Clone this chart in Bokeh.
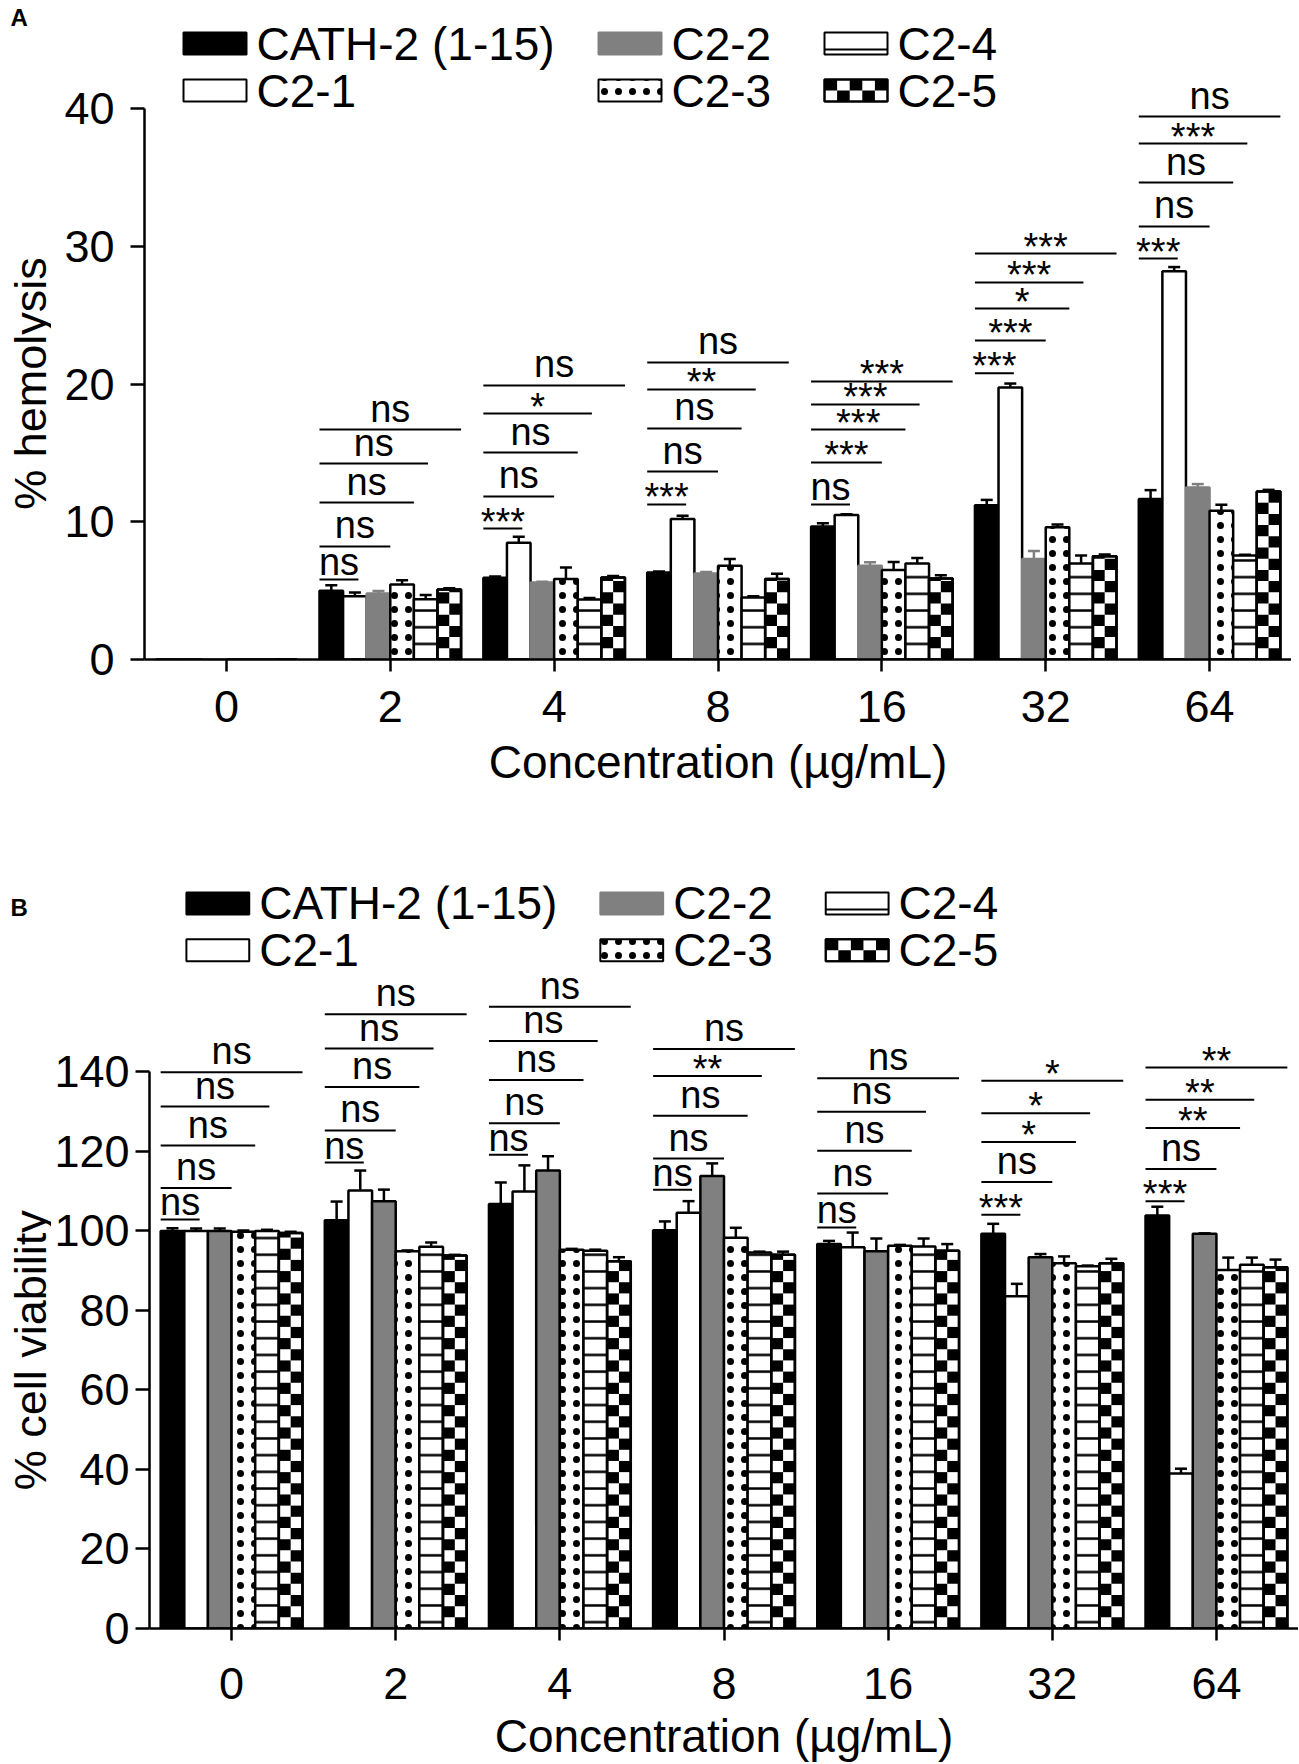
import math
from bokeh.plotting import figure
from bokeh.models import ColumnDataSource, Range1d, FixedTicker, Whisker, TeeHead
from bokeh.layouts import column, row
from bokeh.core.properties import value
from bokeh.embed import file_html
from bokeh.resources import INLINE

# ---------------- data ----------------
concentrations = ["0", "2", "4", "8", "16", "32", "64"]
series = ["CATH-2 (1-15)", "C2-1", "C2-2", "C2-3", "C2-4", "C2-5"]

# Panel A: % hemolysis (mean)
hemo_cath2 = [0, 5.0, 5.93, 6.32, 9.66, 11.2, 11.65]
hemo_c2_1 = [0, 4.6, 8.47, 10.2, 10.5, 19.75, 28.2]
hemo_c2_2 = [0, 4.8, 5.6, 6.25, 6.8, 7.3, 12.5]
hemo_c2_3 = [0, 5.45, 5.84, 6.8, 6.5, 9.6, 10.8]
hemo_c2_4 = [0, 4.38, 4.36, 4.5, 6.97, 6.97, 7.55]
hemo_c2_5 = [0, 5.08, 5.96, 5.84, 5.88, 7.5, 12.2]
# Panel A: error (upper)
hemo_err_cath2 = [0, 0.4, 0.1, 0.07, 0.24, 0.39, 0.65]
hemo_err_c2_1 = [0, 0.27, 0.45, 0.24, 0.05, 0.29, 0.3]
hemo_err_c2_2 = [0, 0.17, 0.05, 0.1, 0.27, 0.58, 0.24]
hemo_err_c2_3 = [0, 0.3, 0.85, 0.5, 0.58, 0.2, 0.44]
hemo_err_c2_4 = [0, 0.3, 0.1, 0.1, 0.41, 0.58, 0.05]
hemo_err_c2_5 = [0, 0.1, 0.1, 0.39, 0.24, 0.12, 0.12]

# Panel B: % cell viability (mean)
via_cath2 = [100, 102.7, 106.8, 100.2, 96.7, 99.3, 103.9]
via_c2_1 = [100, 110.2, 109.9, 104.6, 95.9, 83.6, 39.0]
via_c2_2 = [100, 107.5, 115.2, 113.8, 94.9, 93.4, 99.3]
via_c2_3 = [99.8, 94.9, 95.3, 98.3, 96.3, 91.9, 90.2]
via_c2_4 = [100, 96.0, 95.0, 94.6, 96.1, 91.1, 91.5]
via_c2_5 = [99.5, 93.8, 92.4, 94.0, 95.0, 91.9, 90.9]
via_err_cath2 = [0.7, 4.7, 5.4, 2.2, 0.8, 2.5, 2.2]
via_err_c2_1 = [0.6, 5.0, 6.6, 2.9, 3.7, 3.1, 1.2]
via_err_c2_2 = [0.6, 2.9, 3.6, 3.2, 3.2, 0.8, 0.1]
via_err_c2_3 = [0.3, 0.2, 0.2, 2.5, 0.2, 1.7, 3.1]
via_err_c2_4 = [0.3, 1.1, 0.3, 0.2, 2.0, 0.2, 1.8]
via_err_c2_5 = [0.3, 0.2, 1.0, 0.8, 1.7, 1.1, 1.9]

# significance annotations (CATH-2 vs C2-1 ... C2-5) and their bracket levels
hemo_sig = [[], ["ns", "ns", "ns", "ns", "ns"], ["***", "ns", "ns", "*", "ns"],
            ["***", "ns", "ns", "**", "ns"], ["ns", "***", "***", "***", "***"],
            ["***", "***", "*", "***", "***"], ["***", "ns", "ns", "***", "ns"]]
hemo_sig_level = [[], [5.81, 8.21, 11.40, 14.23, 16.70], [9.51, 11.84, 15.03, 17.86, 19.90],
                  [11.26, 13.65, 16.78, 19.61, 21.57], [11.26, 14.31, 16.70, 18.52, 20.19],
                  [20.79, 23.17, 25.49, 27.38, 29.48], [29.12, 31.45, 34.64, 37.47, 39.43]]
via_sig = [["ns"] * 5, ["ns"] * 5, ["ns"] * 5, ["ns", "ns", "ns", "**", "ns"], ["ns"] * 5,
           ["***", "ns", "*", "*", "*"], ["***", "ns", "**", "**", "**"]]
via_sig_level = [[102.9, 110.8, 121.5, 131.3, 139.9], [117.2, 125.3, 136.2, 145.9, 154.5],
                 [119.2, 127.1, 138.0, 147.8, 156.4], [110.4, 118.2, 129.0, 139.0, 145.8],
                 [100.9, 109.4, 120.2, 130.0, 138.4], [104.1, 112.3, 122.4, 129.6, 137.8],
                 [107.5, 115.6, 125.9, 133.0, 141.1]]

hemo_ticks = [0, 10, 20, 30, 40]
via_ticks = [0, 20, 40, 60, 80, 100, 120, 140]

# ---------------- styling ----------------
FONT = "Liberation Sans"
BW = 0.144                         # bar width (category units)
SPAN = [1.65, 3.0, 4.0, 4.6, 6.0]  # bracket length in bar widths
GRAY = "#808080"
LW = 2.5
TITLE_W = 51


def side_fig(cfg):
    """Narrow figure (frame aligned with the main one) holding letter and y title."""
    fb = cfg["fig_top"] + cfg["height"] - cfg["bottom_border"]   # frame bottom (page px)
    ft = cfg["top"]                                             # frame top (page px)
    t = figure(width=TITLE_W, height=cfg["height"], x_range=Range1d(0, TITLE_W),
               y_range=Range1d(-fb, -ft), output_backend="svg", toolbar_location=None,
               title=None, x_axis_type=None, y_axis_type=None,
               min_border_left=0, min_border_right=0,
               min_border_top=ft - cfg["fig_top"], min_border_bottom=cfg["bottom_border"])
    t.outline_line_color = None
    t.grid.visible = False
    t.background_fill_color = "white"
    t.border_fill_color = "white"
    t.text(x=[10], y=[-cfg["letter_mid"]], text=[cfg["letter"]],
           text_font=value(FONT), text_font_style="bold", text_font_size="24px",
           text_baseline="middle", text_align="left", text_color="black")
    t.text(x=[29.5], y=[-cfg["ylabel_mid"]], text=[cfg["ylabel"]], angle=math.pi / 2,
           text_font=value(FONT), text_font_size="45px", text_baseline="middle",
           text_align="center", text_color="black")
    return t


def build(cfg, vals, errs, sig, sig_level):
    left_page = cfg["left"]
    right_page = cfg["right"]
    ux = (right_page - left_page) / 7.0
    zero = cfg["zero"]
    uy = cfg["uy"]
    X = lambda px: (px - left_page) / ux - 0.5
    Y = lambda py: (zero - py) / uy

    p = figure(width=right_page - TITLE_W, height=cfg["height"], x_range=Range1d(-0.5, 6.5),
               y_range=Range1d(0, Y(cfg["top"])), output_backend="svg",
               toolbar_location=None, title=None,
               min_border_left=left_page - TITLE_W, min_border_right=0,
               min_border_top=cfg["top"] - cfg["fig_top"],
               min_border_bottom=cfg["bottom_border"])
    p.outline_line_color = None
    p.grid.visible = False
    p.background_fill_color = "white"
    p.border_fill_color = "white"

    # axes
    p.xaxis.ticker = FixedTicker(ticks=list(range(7)))
    p.xaxis.major_label_overrides = {i: c for i, c in enumerate(concentrations)}
    p.yaxis.ticker = FixedTicker(ticks=cfg["yticks"])
    p.yaxis.bounds = (cfg["yticks"][0], cfg["yticks"][-1])
    for ax in (p.xaxis[0], p.yaxis[0]):
        ax.axis_line_width = LW
        ax.axis_line_color = "black"
        ax.major_tick_line_width = LW
        ax.major_tick_line_color = "black"
        ax.major_tick_in = 0
        ax.minor_tick_line_color = None
        ax.major_label_text_font = FONT
        ax.major_label_text_font_size = "45px"
        ax.major_label_text_color = "black"
    p.xaxis.major_tick_out = 12
    p.yaxis.major_tick_out = 14
    p.yaxis.major_label_standoff = cfg["y_std"]
    p.xaxis.major_label_standoff = cfg["x_std"]
    p.xaxis.axis_label = "Concentration (µg/mL)"
    p.xaxis.axis_label_text_font = FONT
    p.xaxis.axis_label_text_font_size = "46px"
    p.xaxis.axis_label_text_font_style = "normal"
    p.xaxis.axis_label_text_color = "black"
    p.xaxis.axis_label_standoff = cfg["xl_std"]

    styles = [
        dict(fill_color="black", line_color="black"),
        dict(fill_color="white", line_color="black"),
        dict(fill_color=GRAY, line_color=cfg["gray_line"]),
        dict(fill_color="white", line_color="black", hatch_pattern="dot",
             hatch_color="black", hatch_scale=14, hatch_weight=2),
        dict(fill_color="white", line_color="black", hatch_pattern="horizontal_line",
             hatch_color="black", hatch_scale=16.7, hatch_weight=2.5),
        dict(fill_color="white", line_color="black"),
    ]
    cell = 11.2 / uy

    # bars
    for j in range(6):
        xs = [i + (j - 2.5) * BW for i in range(7)]
        p.vbar(x=xs, top=vals[j], width=BW, bottom=0, line_width=LW, **styles[j])

    # checkerboard for C2-5
    L, R, B, T = [], [], [], []
    for i in range(7):
        v = vals[5][i]
        if v <= 0:
            continue
        xc = i + 2.5 * BW
        for r in range(int(math.ceil(v / cell))):
            c = (r + 1) % 2
            L.append(xc - BW / 2 + c * BW / 2)
            R.append(xc - BW / 2 + (c + 1) * BW / 2)
            B.append(r * cell)
            T.append(min((r + 1) * cell, v))
    p.quad(left=L, right=R, bottom=B, top=T, fill_color="black", line_color=None)
    p.vbar(x=[i + 2.5 * BW for i in range(7)], top=vals[5], width=BW, bottom=0,
           fill_color=None, line_color="black", line_width=LW)

    # error bars (upper only)
    for j in range(6):
        idx = [i for i in range(7) if vals[j][i] > 0]
        src = ColumnDataSource(dict(
            x=[i + (j - 2.5) * BW for i in idx],
            lo=[vals[j][i] for i in idx],
            hi=[vals[j][i] + errs[j][i] for i in idx]))
        col = cfg["gray_line"] if j == 2 else "black"
        p.add_layout(Whisker(source=src, base="x", lower="lo", upper="hi",
                             dimension="height", line_color=col, line_width=LW,
                             lower_head=None,
                             upper_head=TeeHead(size=12, line_color=col, line_width=LW)))

    # significance brackets
    x0s, x1s, ys, tx, ty, tt = [], [], [], [], [], []
    for i in range(7):
        start = i - 3 * BW
        for k, (lev, lab) in enumerate(zip(sig_level[i], sig[i])):
            end = start + SPAN[k] * BW
            x0s.append(start); x1s.append(end); ys.append(lev)
            tx.append((start + end) / 2)
            if lab == "ns":
                ty.append(lev + (17 if k == 0 else 21) / uy)
            else:
                ty.append(lev + 7 / uy)
            tt.append(lab)
    p.segment(x0=x0s, y0=ys, x1=x1s, y1=ys, line_color="black", line_width=2)
    p.text(x=tx, y=ty, text=tt, text_align="center", text_baseline="middle",
           text_font=value(FONT), text_font_size="38px", text_color="black")

    # legend (drawn)
    col_left = [183, 598, 824]
    bw_px, bh_px = 63, 22
    lx, ly, ltxt = [], [], []
    for j, name in enumerate(series):
        c, r = j // 2, j % 2
        yc = cfg["legend_rows"][r]
        x0, x1 = X(col_left[c]), X(col_left[c] + bw_px)
        y0, y1 = Y(yc + bh_px / 2), Y(yc - bh_px / 2)
        st = dict(styles[j])
        if j == 4:
            for key in ("hatch_pattern", "hatch_color", "hatch_scale", "hatch_weight"):
                st.pop(key)
        if j == 2:
            st["line_color"] = GRAY
        p.quad(left=[x0], right=[x1], bottom=[y0], top=[y1], line_width=2, **st)
        if j == 4:
            yl = Y(yc + bh_px / 2 - 5)
            p.segment(x0=[x0], y0=[yl], x1=[x1], y1=[yl], line_color="black", line_width=2)
        if j == 5:
            cl, cr, cb, ct = [], [], [], []
            ncol = 5
            for rr in range(2):
                for cc in range(ncol):
                    if (rr + cc) % 2 == 0:
                        cl.append(x0 + (x1 - x0) * cc / ncol)
                        cr.append(x0 + (x1 - x0) * (cc + 1) / ncol)
                        cb.append(y0 + (y1 - y0) * (1 - rr) / 2)
                        ct.append(y0 + (y1 - y0) * (2 - rr) / 2)
            p.quad(left=cl, right=cr, bottom=cb, top=ct, fill_color="black", line_color=None)
            p.quad(left=[x0], right=[x1], bottom=[y0], top=[y1], fill_color=None,
                   line_color="black", line_width=2)
        lx.append(X(col_left[c] + 73)); ly.append(Y(yc)); ltxt.append(name)
    p.text(x=lx, y=ly, text=ltxt, text_align="left", text_baseline="middle",
           text_font=value(FONT), text_font_size="46px", text_color="black")
    return p


cfgA = dict(left=144, right=1291, zero=659, uy=13.77, top=4, fig_top=0, height=878,
            bottom_border=878 - 659,
            legend_rows=[43, 90], letter_mid=17, letter="A", ylabel_mid=383,
            ylabel="% hemolysis", yticks=hemo_ticks, gray_line=GRAY,
            y_std=16, x_std=19, xl_std=11)
cfgB = dict(left=146, right=1298, zero=1630, uy=3.986, top=885, fig_top=878, height=886,
            bottom_border=878 + 886 - 1630,
            legend_rows=[903, 950], letter_mid=907, letter="B", ylabel_mid=1351,
            ylabel="% cell viability", yticks=via_ticks, gray_line="black",
            y_std=6, x_std=27, xl_std=8)

pA = build(cfgA,
           [hemo_cath2, hemo_c2_1, hemo_c2_2, hemo_c2_3, hemo_c2_4, hemo_c2_5],
           [hemo_err_cath2, hemo_err_c2_1, hemo_err_c2_2, hemo_err_c2_3, hemo_err_c2_4, hemo_err_c2_5],
           hemo_sig, hemo_sig_level)
pB = build(cfgB,
           [via_cath2, via_c2_1, via_c2_2, via_c2_3, via_c2_4, via_c2_5],
           [via_err_cath2, via_err_c2_1, via_err_c2_2, via_err_c2_3, via_err_c2_4, via_err_c2_5],
           via_sig, via_sig_level)

layout = column(row(side_fig(cfgA), pA, spacing=0),
                row(side_fig(cfgB), pB, spacing=0), spacing=0)
open("out.html", "w").write(file_html(layout, INLINE))
